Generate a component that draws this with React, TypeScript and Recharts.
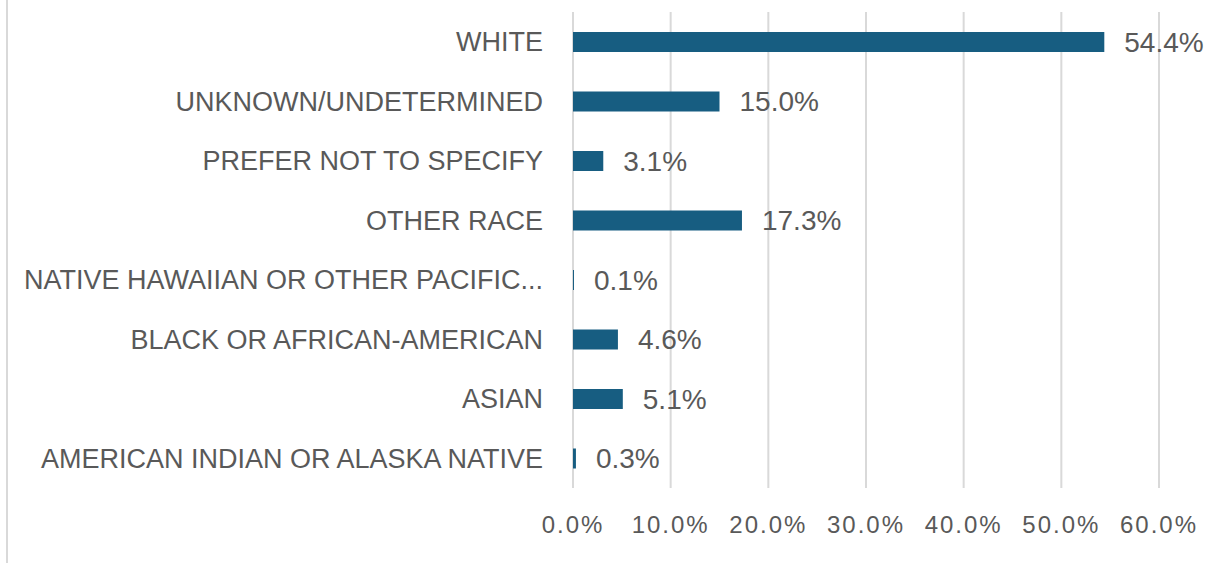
import { BarChart, Bar, XAxis, YAxis, CartesianGrid, LabelList } from 'recharts'

const categories = [
  'WHITE',
  'UNKNOWN/UNDETERMINED',
  'PREFER NOT TO SPECIFY',
  'OTHER RACE',
  'NATIVE HAWAIIAN OR OTHER PACIFIC...',
  'BLACK OR AFRICAN-AMERICAN',
  'ASIAN',
  'AMERICAN INDIAN OR ALASKA NATIVE',
]
const shares = [54.4, 15.0, 3.1, 17.3, 0.1, 4.6, 5.1, 0.3]
const xTicks = [0, 10, 20, 30, 40, 50, 60]

const data = categories.map((name, i) => ({ name, value: shares[i] }))

const FONT = '"Liberation Sans", Arial, sans-serif'
const GREY = '#595959'

export default function App() {
  return (
    <div style={{ position: 'absolute', left: 0, top: 0, width: 1227, height: 563, background: '#fff' }}>
      <div style={{ position: 'absolute', left: 6, top: 0, width: 2, height: 563, background: '#d9d9d9' }} />
      <BarChart
        width={1227}
        height={563}
        data={data}
        layout="vertical"
        margin={{ top: 12, right: 68, left: 0, bottom: 25 }}
        barSize={20}
      >
        <CartesianGrid horizontal={false} stroke="#d9d9d9" strokeWidth={2} />
        <XAxis
          type="number"
          domain={[0, 60]}
          ticks={xTicks}
          tickFormatter={(v: number) => `${v.toFixed(1)}%`}
          tick={{ fontFamily: FONT, fontSize: 24, fill: GREY, letterSpacing: 2 }}
          axisLine={false}
          tickLine={false}
          tickSize={0}
          tickMargin={28}
          height={50}
        />
        <YAxis
          type="category"
          dataKey="name"
          width={573}
          tick={{ fontFamily: FONT, fontSize: 27, fill: GREY }}
          axisLine={false}
          tickLine={false}
          tickSize={0}
          tickMargin={30}
          interval={0}
        />
        <Bar dataKey="value" fill="#175d81" isAnimationActive={false}>
          <LabelList
            dataKey="value"
            position="right"
            offset={20}
            formatter={(v: number) => `${Number(v).toFixed(1)}%`}
            style={{ fontFamily: FONT, fontSize: 28, fill: GREY }}
          />
        </Bar>
      </BarChart>
    </div>
  )
}
